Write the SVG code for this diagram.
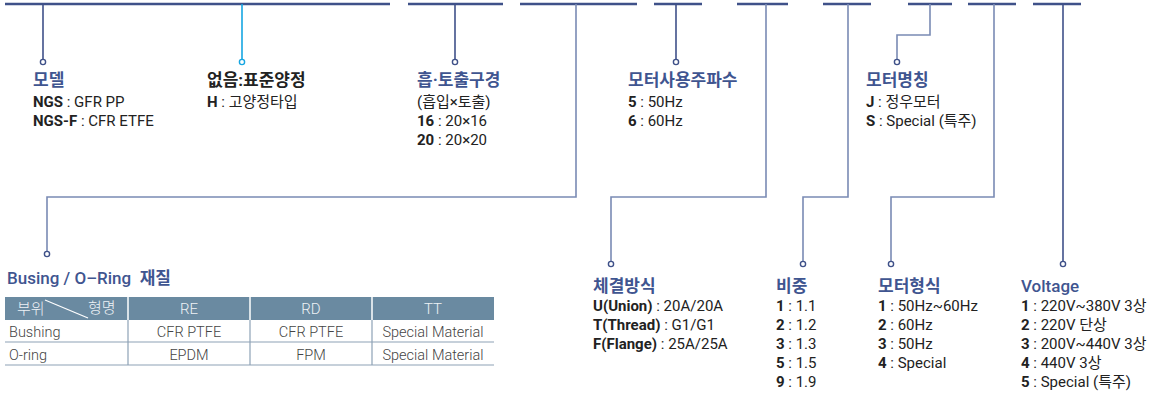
<svg xmlns="http://www.w3.org/2000/svg" width="1164" height="397" viewBox="0 0 1164 397">
<style>
.bar{stroke:#3f5189;stroke-width:2.5;fill:none}
.dk{stroke:#3f5189;stroke-width:1.6;fill:none}
.lt{stroke:#7a8bb4;stroke-width:1.6;fill:none}
.cy{stroke:#16a6e2;stroke-width:1.6;fill:none}
.dot{fill:#fff;stroke:#3f5189;stroke-width:1.4}
.dotc{fill:#fff;stroke:#16a6e2;stroke-width:1.4}
text{font-family:Roboto,"Noto Sans CJK KR",sans-serif}
.t{font-size:17px;font-weight:700;fill:#3f5590}
.tm{font-size:17px;font-weight:500;fill:#3f5590}
.tb{font-size:17px;font-weight:700;fill:#222}
.b{font-size:15px;fill:#222}
.b tspan.k{font-weight:700}
.hd{font-size:15px;fill:#eef2f6;font-weight:300}
.td{font-size:14.5px;fill:#444;font-weight:300}
.grid{stroke:#8ea2b6;stroke-width:1.2;fill:none}
</style>
<g id="connectors">
<line class="bar" x1="5" y1="4" x2="390" y2="4"/>
<line class="bar" x1="408" y1="4" x2="503" y2="4"/>
<line class="bar" x1="520" y1="4" x2="637" y2="4"/>
<line class="bar" x1="654" y1="4" x2="702" y2="4"/>
<line class="bar" x1="737" y1="4" x2="788" y2="4"/>
<line class="bar" x1="823" y1="4" x2="871" y2="4"/>
<line class="bar" x1="908" y1="4" x2="952" y2="4"/>
<line class="bar" x1="968" y1="4" x2="1016" y2="4"/>
<line class="bar" x1="1033" y1="4" x2="1081" y2="4"/>
<path class="dk" d="M43 4V60"/>
<path class="cy" d="M242 4V60"/>
<path class="dk" d="M455 4V60"/>
<path class="lt" d="M576 4V197H47V251"/>
<path class="dk" d="M676 4V60"/>
<path class="lt" d="M766 4V197H611V261"/>
<path class="lt" d="M848 4V197H803V261"/>
<path class="lt" d="M930 4V35H897V60"/>
<path class="lt" d="M994 4V197H891V261"/>
<path class="dk" d="M1063 4V261"/>
<circle class="dot" cx="43" cy="62" r="2.6"/>
<circle class="dotc" cx="242" cy="62" r="2.6"/>
<circle class="dot" cx="455" cy="62" r="2.6"/>
<circle class="dot" cx="676" cy="62" r="2.6"/>
<circle class="dot" cx="897" cy="62" r="2.6"/>
<circle class="dot" cx="47" cy="254" r="2.6"/>
<circle class="dot" cx="611" cy="264" r="2.6"/>
<circle class="dot" cx="803" cy="264" r="2.6"/>
<circle class="dot" cx="891" cy="264" r="2.6"/>
<circle class="dot" cx="1063" cy="264" r="2.6"/>
</g>
<g id="model">
<text class="t" x="33" y="86">모델</text>
<text class="b" x="33" y="107"><tspan class="k">NGS</tspan> : GFR PP</text>
<text class="b" x="33" y="126"><tspan class="k">NGS-F</tspan> : CFR ETFE</text>
</g>
<g id="head">
<text class="tb" x="207" y="86">없음:표준양정</text>
<text class="b" x="207" y="107"><tspan class="k">H</tspan> : 고양정타입</text>
</g>
<g id="bore">
<text class="t" x="417" y="86">흡·토출구경</text>
<text class="b" x="417" y="107">(흡입×토출)</text>
<text class="b" x="417" y="126"><tspan class="k">16</tspan> : 20×16</text>
<text class="b" x="417" y="145"><tspan class="k">20</tspan> : 20×20</text>
</g>
<g id="freq">
<text class="t" x="628" y="86">모터사용주파수</text>
<text class="b" x="628" y="107"><tspan class="k">5</tspan> : 50Hz</text>
<text class="b" x="628" y="126"><tspan class="k">6</tspan> : 60Hz</text>
</g>
<g id="motorname">
<text class="t" x="866" y="86">모터명칭</text>
<text class="b" x="866" y="107"><tspan class="k">J</tspan> : 정우모터</text>
<text class="b" x="866" y="126"><tspan class="k">S</tspan> : Special (특주)</text>
</g>
<g id="material">
<text class="tm" x="7" y="284">Busing / O–Ring&#160; <tspan font-weight="700">재질</tspan></text>
<rect x="5" y="297" width="489" height="23" fill="#6a8aa1"/>
<line x1="128" y1="297" x2="128" y2="320" stroke="#fff" stroke-width="1.5"/>
<line x1="250" y1="297" x2="250" y2="320" stroke="#fff" stroke-width="1.5"/>
<line x1="372" y1="297" x2="372" y2="320" stroke="#fff" stroke-width="1.5"/>
<line x1="45" y1="300" x2="88" y2="318" stroke="#fff" stroke-width="1.2"/>
<text class="hd" x="17" y="314">부위</text>
<text class="hd" x="88" y="313">형명</text>
<text class="hd" x="189" y="314" text-anchor="middle">RE</text>
<text class="hd" x="311" y="314" text-anchor="middle">RD</text>
<text class="hd" x="433" y="314" text-anchor="middle">TT</text>
<path class="grid" d="M5 342H494M5 365H494M128 320V365M250 320V365M372 320V365"/>
<text class="td" x="9" y="337">Bushing</text>
<text class="td" x="189" y="337" text-anchor="middle">CFR PTFE</text>
<text class="td" x="311" y="337" text-anchor="middle">CFR PTFE</text>
<text class="td" x="433" y="337" text-anchor="middle">Special Material</text>
<text class="td" x="9" y="360">O-ring</text>
<text class="td" x="189" y="360" text-anchor="middle">EPDM</text>
<text class="td" x="311" y="360" text-anchor="middle">FPM</text>
<text class="td" x="433" y="360" text-anchor="middle">Special Material</text>
</g>
<g id="connection">
<text class="t" x="593" y="292">체결방식</text>
<text class="b" x="593" y="311"><tspan class="k">U(Union)</tspan> : 20A/20A</text>
<text class="b" x="593" y="330"><tspan class="k">T(Thread)</tspan> : G1/G1</text>
<text class="b" x="593" y="349"><tspan class="k">F(Flange)</tspan> : 25A/25A</text>
</g>
<g id="gravity">
<text class="t" x="776" y="292">비중</text>
<text class="b" x="776" y="311"><tspan class="k">1</tspan> : 1.1</text>
<text class="b" x="776" y="330"><tspan class="k">2</tspan> : 1.2</text>
<text class="b" x="776" y="349"><tspan class="k">3</tspan> : 1.3</text>
<text class="b" x="776" y="368"><tspan class="k">5</tspan> : 1.5</text>
<text class="b" x="776" y="387"><tspan class="k">9</tspan> : 1.9</text>
</g>
<g id="motortype">
<text class="t" x="878" y="292">모터형식</text>
<text class="b" x="878" y="311"><tspan class="k">1</tspan> : 50Hz~60Hz</text>
<text class="b" x="878" y="330"><tspan class="k">2</tspan> : 60Hz</text>
<text class="b" x="878" y="349"><tspan class="k">3</tspan> : 50Hz</text>
<text class="b" x="878" y="368"><tspan class="k">4</tspan> : Special</text>
</g>
<g id="voltage">
<text class="tm" x="1021" y="292">Voltage</text>
<text class="b" x="1021" y="311"><tspan class="k">1</tspan> : 220V~380V 3상</text>
<text class="b" x="1021" y="330"><tspan class="k">2</tspan> : 220V 단상</text>
<text class="b" x="1021" y="349"><tspan class="k">3</tspan> : 200V~440V 3상</text>
<text class="b" x="1021" y="368"><tspan class="k">4</tspan> : 440V 3상</text>
<text class="b" x="1021" y="387"><tspan class="k">5</tspan> : Special (특주)</text>
</g>
</svg>
